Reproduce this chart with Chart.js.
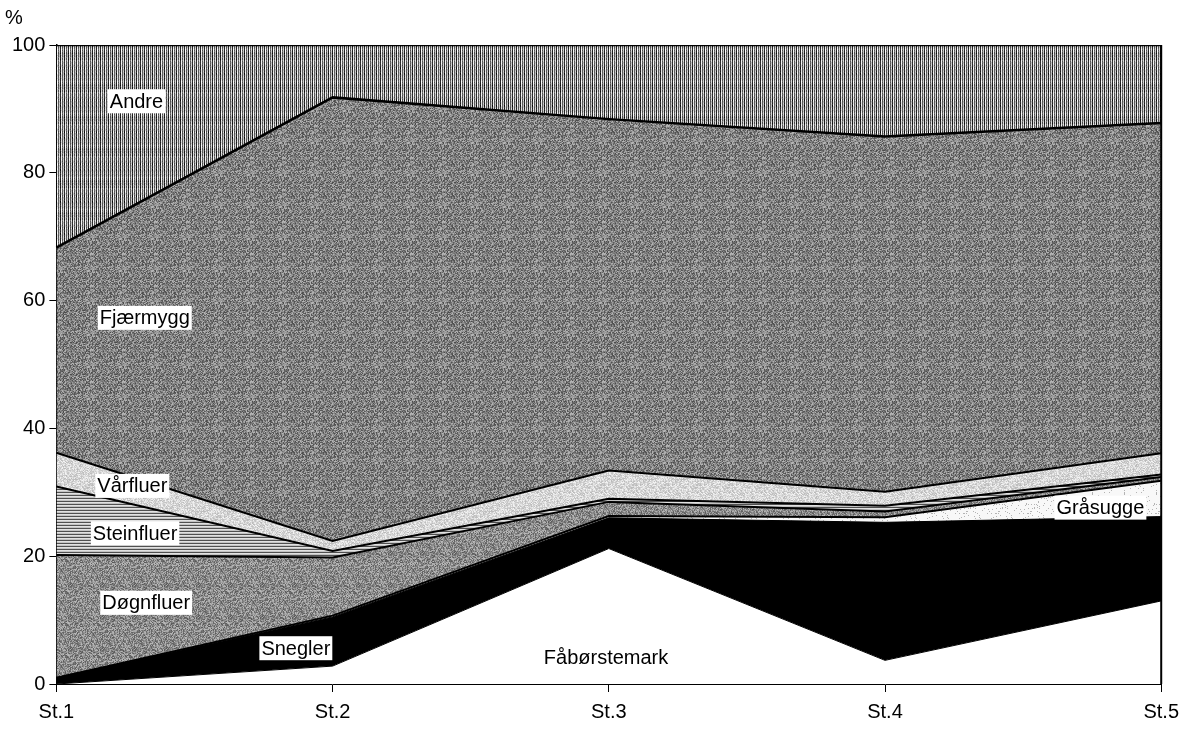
<!DOCTYPE html>
<html>
<head>
<meta charset="utf-8">
<script src="https://cdn.jsdelivr.net/npm/chart.js@4"></script>
<style>
  html, body { margin: 0; padding: 0; background: #fff; }
  #wrap { width: 1187px; height: 732px; position: relative; }
</style>
</head>
<body>
<div id="wrap"><canvas id="c"></canvas></div>
<script>
// ---- Data (percent at each station) ----
const categories = ['St.1', 'St.2', 'St.3', 'St.4', 'St.5'];
const faborstemark = [0.0, 2.8, 21.2, 3.7, 13.0];
const snegler      = [1.0, 7.7, 4.8, 21.6, 13.2];
const grasugge     = [0.0, 0.2, 0.3, 0.8, 5.6];
const dognfluer    = [19.2, 9.1, 2.2, 0.9, 0.6];
const steinfluer   = [10.7, 1.0, 0.5, 0.9, 0.4];
const varfluer     = [5.3, 1.6, 4.4, 2.2, 3.3];
const fjaermygg    = [32.1, 69.4, 55.0, 55.6, 51.7];
const andre        = [31.7, 8.2, 11.6, 14.3, 12.2];
const yTicks = [0, 20, 40, 60, 80, 100];

// ---- Area labels: [text, category index (fractional), y value, boxed] ----
const areaLabels = [
  ['Andre', 0.29, 91.2, true],
  ['Fjærmygg', 0.32, 57.3, true],
  ['Vårfluer', 0.275, 31.0, true],
  ['Steinfluer', 0.285, 23.6, true],
  ['Døgnfluer', 0.325, 12.7, true],
  ['Snegler', 0.867, 5.6, true],
  ['Fåbørstemark', 1.99, 4.2, false],
  ['Gråsugge', 3.78, 27.6, true]
];

const FONT = '"Liberation Sans", Arial, sans-serif';

// ---- Texture patterns ----
function hash(x, y, s) {
  let h = (x * 374761393 + y * 668265263 + s * 982451653) | 0;
  h = Math.imul(h ^ (h >>> 13), 1274126177);
  return ((h ^ (h >>> 16)) >>> 0) / 4294967295;
}
function makePattern(w, h, fn) {
  const c = document.createElement('canvas');
  c.width = w; c.height = h;
  const g = c.getContext('2d');
  const img = g.createImageData(w, h);
  for (let y = 0; y < h; y++) for (let x = 0; x < w; x++) {
    const v = Math.max(0, Math.min(255, Math.round(fn(x, y))));
    const i = (y * w + x) * 4;
    img.data[i] = img.data[i + 1] = img.data[i + 2] = v;
    img.data[i + 3] = 255;
  }
  g.putImageData(img, 0, 0);
  return g.createPattern(c, 'repeat');
}
const patAndre = makePattern(4, 32, (x, y) => [30, 230, 95, 205][x] + (hash(x, y, 1) - 0.5) * 50);
const patFjaer = makePattern(32, 32, (x, y) => 128 + (hash(x, y, 2) - 0.5) * 110);
const patDogn  = makePattern(32, 32, (x, y) => 138 + (hash(x, y, 3) - 0.5) * 100);
const patStein = makePattern(8, 3, (x, y) => [80, 225, 195][y]);
const patVar   = makePattern(32, 32, (x, y) => 215 + (hash(x, y, 4) - 0.5) * 60);
const patGra   = makePattern(32, 32, (x, y) => hash(x, y, 5) < 0.07 ? 180 : 248);

// ---- Plugins ----
const framePlugin = {
  id: 'frame',
  afterDatasetsDraw(chart) {
    const { ctx, chartArea, scales } = chart;
    ctx.save();
    ctx.strokeStyle = '#000';
    ctx.lineWidth = 2;
    ctx.beginPath();
    ctx.moveTo(chartArea.right, chartArea.top);
    ctx.lineTo(chartArea.right, chartArea.bottom);
    ctx.stroke();
    ctx.font = '20px ' + FONT;
    ctx.textBaseline = 'middle';
    ctx.textAlign = 'center';
    for (const [t, xi, yv, boxed] of areaLabels) {
      const px = scales.x.getPixelForValue(xi);
      const py = scales.y.getPixelForValue(yv);
      const w = ctx.measureText(t).width;
      if (boxed) {
        ctx.fillStyle = '#fff';
        ctx.fillRect(px - w / 2 - 2, py - 12, w + 4, 24);
      }
      ctx.fillStyle = '#000';
      ctx.fillText(t, px, py + 1);
    }
    ctx.fillText('%', scales.y.left + 6, chartArea.top - 27);
    ctx.restore();
  }
};

// ---- Chart ----
function ds(label, data, bg, fill, border) {
  return {
    label, data, backgroundColor: bg, fill,
    borderColor: '#000', borderWidth: border,
    pointRadius: 0, tension: 0
  };
}
new Chart(document.getElementById('c'), {
  type: 'line',
  data: {
    labels: categories,
    datasets: [
      ds('Fåbørstemark', faborstemark, '#ffffff', 'origin', 1),
      ds('Snegler', snegler, '#000000', '-1', 1),
      ds('Gråsugge', grasugge, patGra, '-1', 2),
      ds('Døgnfluer', dognfluer, patDogn, '-1', 2),
      ds('Steinfluer', steinfluer, patStein, '-1', 2),
      ds('Vårfluer', varfluer, patVar, '-1', 2),
      ds('Fjærmygg', fjaermygg, patFjaer, '-1', 2.5),
      ds('Andre', andre, patAndre, '-1', 2.5)
    ]
  },
  options: {
    responsive: true,
    maintainAspectRatio: false,
    animation: false,
    layout: { padding: { left: 8, right: 25, top: 45, bottom: 0 } },
    plugins: {
      legend: { display: false },
      tooltip: { enabled: false }
    },
    scales: {
      x: {
        offset: false,
        grid: { drawOnChartArea: false, drawTicks: true, tickLength: 8, color: '#000' },
        border: { display: true, color: '#000', width: 1 },
        ticks: { color: '#000', padding: 8, maxRotation: 0, font: { family: FONT, size: 20 } }
      },
      y: {
        stacked: true,
        min: 0, max: 100,
        afterBuildTicks(scale) { scale.ticks = yTicks.map(v => ({ value: v })); },
        grid: { drawOnChartArea: false, drawTicks: true, tickLength: 7, color: '#000' },
        border: { display: true, color: '#000', width: 1.5 },
        ticks: { color: '#000', padding: 4, font: { family: FONT, size: 20 } }
      }
    }
  },
  plugins: [framePlugin]
});
</script>
</body>
</html>
